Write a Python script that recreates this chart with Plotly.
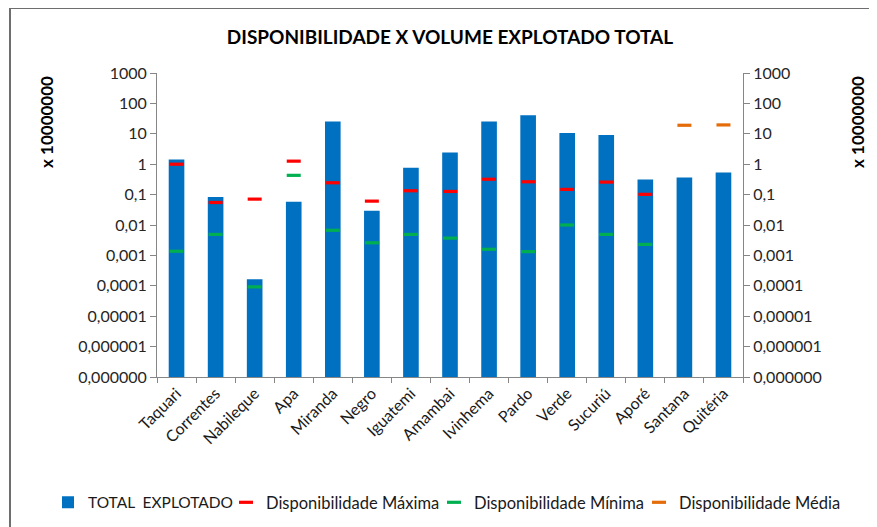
import plotly.graph_objects as go

categories = ["Taquari", "Correntes", "Nabileque", "Apa", "Miranda", "Negro", "Iguatemi",
              "Amambai", "Ivinhema", "Pardo", "Verde", "Sucuriú", "Aporé", "Santana", "Quitéria"]
total_explotado = [1.43, 0.083, 0.000165, 0.058, 25.3, 0.0295, 0.76,
                   2.43, 25.3, 40.8, 10.7, 9.2, 0.315, 0.367, 0.535]
disp_maxima = [1.0, 0.055, 0.071, 1.26, 0.245, 0.061, 0.134,
               0.127, 0.32, 0.264, 0.148, 0.258, 0.102, None, None]
disp_minima = [0.00137, 0.0049, 0.0000923, 0.43, 0.0067, 0.0026, 0.0049,
               0.0037, 0.00159, 0.00133, 0.01, 0.0049, 0.0023, None, None]
disp_media = [None, None, None, None, None, None, None,
              None, None, None, None, None, None, 19.1, 19.6]
tick_vals = [1e-7, 1e-6, 1e-5, 1e-4, 1e-3, 1e-2, 1e-1, 1, 10, 100, 1000]
tick_text = ["0,000000", "0,000001", "0,00001", "0,0001", "0,001", "0,01", "0,1",
             "1", "10", "100", "1000"]

FONT = "Lato, 'Open Sans', sans-serif"
AX = "#868686"

# the page body has an 8px default margin; work in page pixels and convert
OFF = 8
FW, FH = 877 - OFF, 527 - OFF
# plot-area geometry (page pixels)
L, R, T, B = 157, 743, 73, 377.3
W, H = R - L, B - T


def px_x(p):
    return (p - L) / W


def px_y(p):
    return (B - p) / H


fig = go.Figure()
fig.add_trace(go.Bar(x=categories, y=total_explotado, name="TOTAL  EXPLOTADO",
                     marker=dict(color="#0070C0", line=dict(width=0)), legend="legend"))


def dash_trace(vals, name, color, leg):
    return go.Scatter(x=categories, y=vals, name=name, mode="markers", legend=leg,
                      marker=dict(symbol="line-ew", size=10,
                                  line=dict(color=color, width=3.2)))


fig.add_trace(dash_trace(disp_maxima, "Disponibilidade Máxima", "#FF0000", "legend2"))
fig.add_trace(dash_trace(disp_minima, "Disponibilidade Mínima", "#00B050", "legend3"))
fig.add_trace(dash_trace(disp_media, "Disponibilidade Média", "#E46C0A", "legend4"))
# invisible trace to activate the right-hand axis
fig.add_trace(go.Scatter(x=categories, y=total_explotado, yaxis="y2", mode="markers",
                         marker=dict(opacity=0), showlegend=False, hoverinfo="skip"))

yax = dict(type="log", range=[-7, 3], tickmode="array", tickvals=tick_vals,
           ticktext=tick_text, ticks="outside", ticklen=6, tickcolor=AX,
           showline=True, linecolor=AX, linewidth=1, showgrid=False, zeroline=False,
           tickfont=dict(family=FONT, size=16, color="#262626"))


def legend_at(text_start_px, size):
    return dict(orientation="h", x=px_x(text_start_px - 38), xanchor="left",
                y=px_y(503), yanchor="middle",
                font=dict(family=FONT, size=size, color="#1a1a1a"),
                bgcolor="rgba(0,0,0,0)")


fig.update_layout(
    width=FW, height=FH,
    margin=dict(l=L - OFF, r=877 - R, t=T - OFF, b=527 - B, autoexpand=False),
    paper_bgcolor="white", plot_bgcolor="white",
    bargap=0.6,
    title=dict(text="<b>DISPONIBILIDADE X VOLUME EXPLOTADO TOTAL</b>",
               x=0.5, xref="paper", xanchor="center", y=1 - (37 - OFF) / FH,
               yanchor="middle",
               font=dict(family=FONT, size=19, color="#000000")),
    xaxis=dict(type="category", range=[-0.5, len(categories) - 0.5], tickangle=-45,
               ticks="outside", ticklen=5, tickson="boundaries", tickcolor=AX,
               showline=True, linecolor=AX, showgrid=False,
               tickfont=dict(family=FONT, size=16, color="#1a1a1a")),
    yaxis=yax,
    yaxis2=dict(yax, overlaying="y", side="right"),
    showlegend=True,
    legend=legend_at(86, 15.5),
    legend2=legend_at(264, 16.5),
    legend3=legend_at(472, 16.5),
    legend4=legend_at(677, 16.5),
    annotations=[
        dict(text="<b>x 10000000</b>", textangle=-90, xref="paper", yref="paper",
             x=px_x(47), y=px_y(122), showarrow=False,
             xanchor="center", yanchor="middle",
             font=dict(family=FONT, size=17, color="#000000")),
        dict(text="<b>x 10000000</b>", textangle=-90, xref="paper", yref="paper",
             x=px_x(858), y=px_y(122), showarrow=False,
             xanchor="center", yanchor="middle",
             font=dict(family=FONT, size=17, color="#000000")),
    ],
    shapes=[dict(type="rect", xref="paper", yref="paper",
                 x0=px_x(10), x1=px_x(890), y0=px_y(540), y1=px_y(8),
                 line=dict(color="#6e6e6e", width=2), fillcolor="rgba(0,0,0,0)",
                 layer="below")],
)

fig.write_html("out.html")
